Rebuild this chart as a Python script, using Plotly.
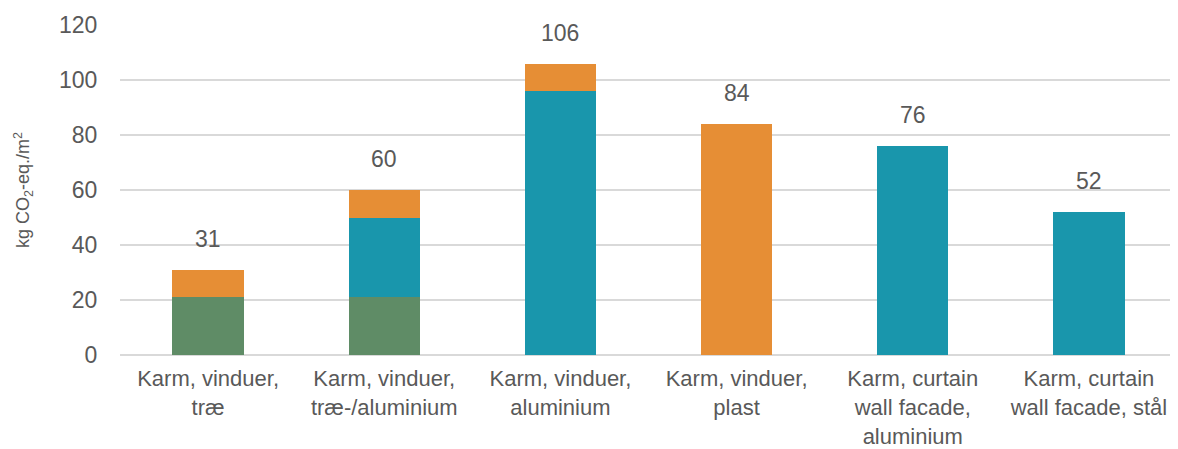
import plotly.graph_objects as go

categories = [
    "Karm, vinduer,<br>træ",
    "Karm, vinduer,<br>træ-/aluminium",
    "Karm, vinduer,<br>aluminium",
    "Karm, vinduer,<br>plast",
    "Karm, curtain<br>wall facade,<br>aluminium",
    "Karm, curtain<br>wall facade, stål",
]
green_vals = [21, 21, 0, 0, 0, 0]
teal_vals = [0, 29, 96, 0, 76, 52]
orange_vals = [10, 10, 10, 84, 0, 0]
totals = [31, 60, 106, 84, 76, 52]
y_ticks = [0, 20, 40, 60, 80, 100, 120]

fig = go.Figure()
for vals, color, name in [
    (green_vals, "#5F8C66", "Træ"),
    (teal_vals, "#1996AC", "Aluminium"),
    (orange_vals, "#E68E35", "Plast"),
]:
    fig.add_trace(go.Bar(x=categories, y=vals, marker=dict(color=color, line=dict(width=0)),
                         name=name, hoverinfo="y"))

for c, t in zip(categories, totals):
    fig.add_annotation(x=c, y=t, text=str(t), showarrow=False, yshift=31,
                       font=dict(size=23, color="#595959"))

# the page body adds an 8px margin, so the figure is 8px smaller and margins shifted
fig.update_layout(
    barmode="stack",
    bargap=0.595,
    width=1170, height=441,
    margin=dict(l=112, r=1, t=17, b=94),
    plot_bgcolor="white", paper_bgcolor="white",
    showlegend=False,
    font=dict(family="Liberation Sans, Arial, sans-serif", color="#595959"),
    xaxis=dict(tickfont=dict(size=22, color="#595959"), showline=False, ticks="outside",
               ticklen=4, tickcolor="white", automargin=False),
    yaxis=dict(range=[0, 120], tickvals=y_ticks, showgrid=True, gridcolor="#D9D9D9", gridwidth=1.5,
               zeroline=True, zerolinecolor="#D9D9D9", zerolinewidth=1.5,
               tickfont=dict(size=23, color="#595959"), ticks="outside", ticklen=17, tickcolor="white",
               automargin=False,
               title=dict(text="kg CO<sub>2</sub>-eq./m<sup>2</sup>", font=dict(size=18, color="#595959"),
                          standoff=24)),
)

fig.write_html("out.html")
